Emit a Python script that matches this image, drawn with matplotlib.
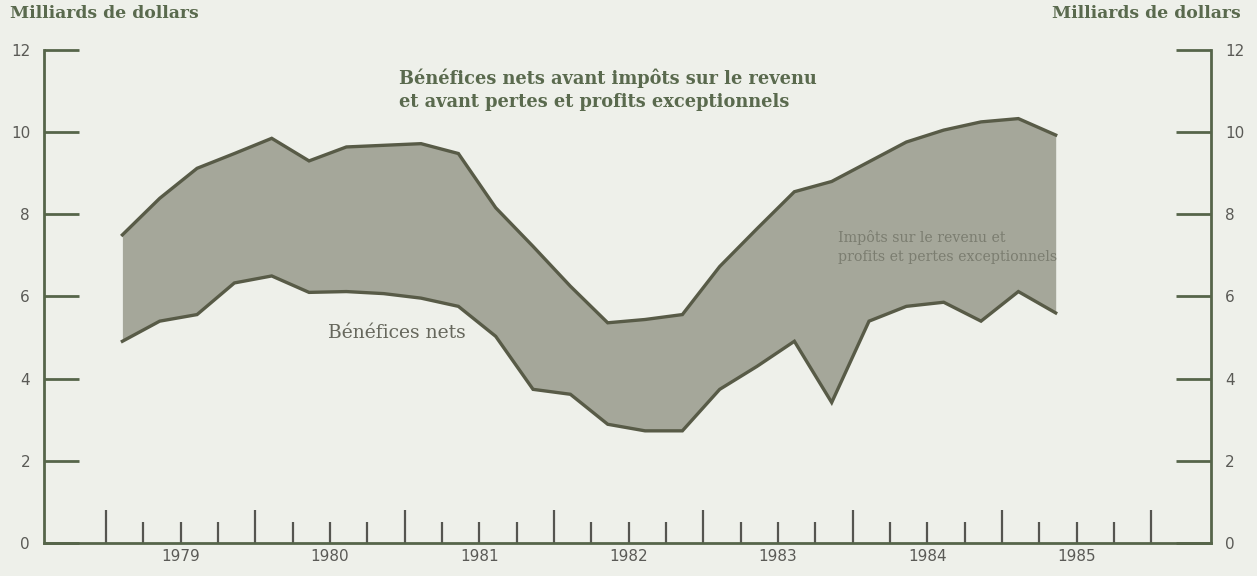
import matplotlib
matplotlib.use("Agg")
import matplotlib.pyplot as plt
import numpy as np
from matplotlib.transforms import blended_transform_factory

# Quarterly data, 1979 T1 .. 1985 T2 (milliards de dollars)
quarters = np.arange(26)
avant_impots = [7.50, 8.39, 9.12, 9.48, 9.85, 9.30, 9.64, 9.68, 9.72, 9.48,
                8.16, 7.22, 6.25, 5.36, 5.44, 5.56, 6.73, 7.65, 8.55, 8.80,
                9.28, 9.76, 10.05, 10.25, 10.33, 9.93]
benefices_nets = [4.91, 5.40, 5.56, 6.33, 6.50, 6.10, 6.12, 6.07, 5.96, 5.76,
                  5.03, 3.74, 3.62, 2.89, 2.73, 2.73, 3.74, 4.30, 4.91, 3.42,
                  5.40, 5.76, 5.86, 5.40, 6.12, 5.60]
years = [1979, 1980, 1981, 1982, 1983, 1984, 1985]
yticks = [0, 2, 4, 6, 8, 10, 12]

BG = "#eef0ea"
FILL = "#a5a79a"
LINE = "#585b47"
AXIS = "#56654a"
TXT = "#5a6a4e"
TICKTXT = "#5a5a56"

t = 1979.11 + 0.25 * quarters

fig = plt.figure(figsize=(12.57, 5.76), dpi=100, facecolor=BG)
ax = fig.add_axes([0.035, 0.0573, 0.9284, 0.8559])
ax.set_facecolor(BG)

ax.fill_between(t, benefices_nets, avant_impots, color=FILL, lw=0)
ax.plot(t, avant_impots, color=LINE, lw=2.4, solid_joinstyle="miter")
ax.plot(t, benefices_nets, color=LINE, lw=2.4, solid_joinstyle="miter")

ax.set_xlim(1978.585, 1986.40)
ax.set_ylim(0, 12)

ax.spines["top"].set_visible(False)
for s in ["left", "right", "bottom"]:
    ax.spines[s].set_color(AXIS)
    ax.spines[s].set_linewidth(2)

# y axis: ticks inward on both sides, labels outside
ax.set_yticks(yticks)
ax.tick_params(axis="y", direction="in", length=25, width=2, color=AXIS,
               left=True, right=True, labelleft=True, labelright=True,
               labelsize=11, labelcolor=TICKTXT, pad=10)
for lab in ax.get_yticklabels():
    lab.set_family("DejaVu Sans")

# x axis: year ticks tall, quarter ticks short, year labels centred in year
ax.set_xticks(list(range(1979, 1987)))
ax.set_xticklabels([])
ax.set_xticks([y + q * 0.25 for y in range(1979, 1986) for q in (1, 2, 3)],
              minor=True)
ax.tick_params(axis="x", which="major", direction="in", length=24, width=1.6,
               color="#555550")
ax.tick_params(axis="x", which="minor", direction="in", length=15, width=1.6,
               color="#555550")
trans = blended_transform_factory(ax.transData, ax.transAxes)
for y in years:
    ax.text(y + 0.5, -0.012, str(y), transform=trans, ha="center", va="top",
            fontsize=11, color=TICKTXT, family="DejaVu Sans")

# titles and labels
fig.text(0.008, 0.976, "Milliards de dollars", ha="left", va="center",
         fontsize=12.4, fontweight="bold", family="DejaVu Serif", color=TXT)
fig.text(0.987, 0.976, "Milliards de dollars", ha="right", va="center",
         fontsize=12.4, fontweight="bold", family="DejaVu Serif", color=TXT)

ax.text(1980.96, 11.03, "Bénéfices nets avant impôts sur le revenu\n"
        "et avant pertes et profits exceptionnels",
        ha="left", va="center", fontsize=12.8, fontweight="bold",
        family="DejaVu Serif", color=TXT, linespacing=1.4)
ax.text(1980.49, 5.1, "Bénéfices nets", ha="left", va="center",
        fontsize=13.5, family="DejaVu Serif", color="#66675c")
ax.text(1983.9, 7.2, "Impôts sur le revenu et\n"
        "profits et pertes exceptionnels",
        ha="left", va="center", fontsize=10.2, family="DejaVu Serif",
        color="#7b7d70", linespacing=1.5)

fig.savefig("out.png", dpi=100, facecolor=BG)
